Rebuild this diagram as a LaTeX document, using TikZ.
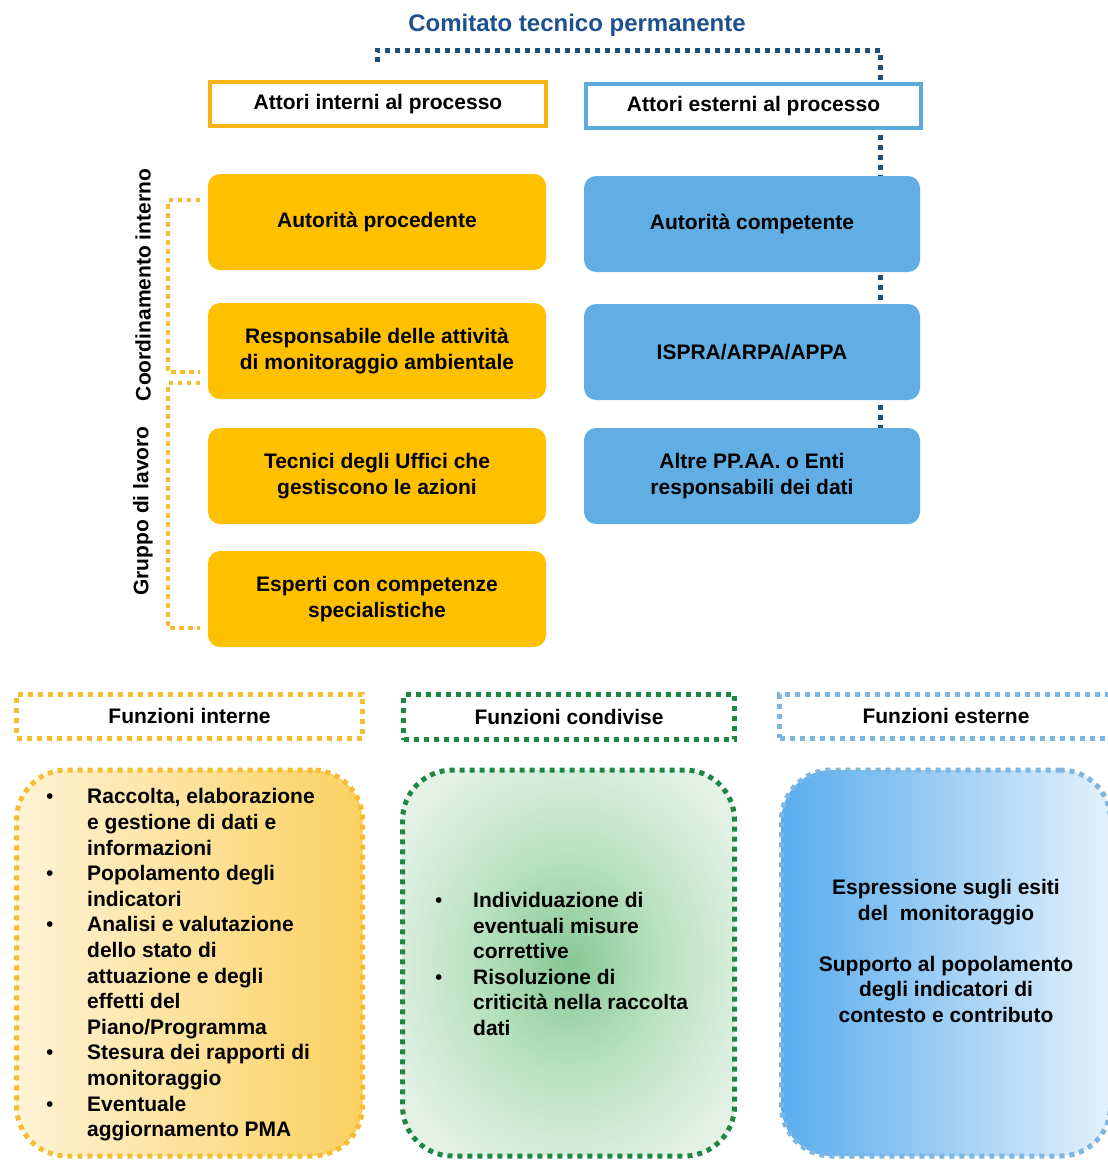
\documentclass[tikz,border=0pt]{standalone}
\usepackage{fontspec}
\setmainfont{Liberation Sans}
\usetikzlibrary{backgrounds}

\definecolor{ctpblue}{RGB}{31,78,121}
\definecolor{titleblue}{RGB}{30,80,145}
\definecolor{intorange}{RGB}{255,192,0}
\definecolor{intline}{RGB}{245,180,20}
\definecolor{extblue}{RGB}{96,174,228}
\definecolor{extline}{RGB}{90,170,222}
\definecolor{dotorange}{RGB}{245,190,50}
\definecolor{dotgreen}{RGB}{30,135,70}
\definecolor{dotblue}{RGB}{125,182,225}
\definecolor{glowin}{RGB}{135,200,148}
\definecolor{glowmid}{RGB}{185,225,192}
\definecolor{glowout}{RGB}{228,242,230}

\pgfdeclareradialshading{greenglow}{\pgfpoint{0bp}{0bp}}{%
  color(0bp)=(glowin); color(14bp)=(glowmid); color(30bp)=(glowout); color(50bp)=(glowout)}

\newcommand\itembul[1]{\makebox[#1][l]{\mdseries\textbullet}}

\begin{document}
\begin{tikzpicture}[x=1pt,y=-1pt,
  every node/.style={font=\fontsize{21}{25.6}\selectfont\bfseries, inner sep=0pt},
  header/.style={draw, line width=4pt, fill=white, minimum width=336pt, minimum height=44pt},
  actor/.style={rounded corners=12pt, minimum width=338pt, minimum height=96pt, align=center},
  dotbox/.style={draw, line width=5pt, dash pattern=on 5pt off 5pt, minimum width=346pt, minimum height=44pt},
  funcbox/.style={draw, line width=5pt, dash pattern=on 5pt off 5pt, rounded corners=50pt, minimum height=386pt},
  committee/.style={ctpblue, line width=5pt, dash pattern=on 5pt off 5pt},
  bracket/.style={dotorange, line width=4.5pt, dash pattern=on 4.5pt off 4.5pt}]
  \useasboundingbox (0,0) rectangle (1108,1162);

  % Title
  \node[font=\fontsize{24}{28}\selectfont\bfseries, text=titleblue] (title) at (577,25) {Comitato tecnico permanente};

  % Column headers
  \node[header, draw=intline] (intH) at (378,104) {Attori interni al processo};
  \node[header, draw=extline, minimum width=335pt] (extH) at (753.5,106) {Attori esterni al processo};

  % Internal actors
  \node[actor, fill=intorange] (ap) at (377,222) {Autorità procedente};
  \node[actor, fill=intorange] (resp) at (377,351) {Responsabile delle attività\\di monitoraggio ambientale};
  \node[actor, fill=intorange] (tec) at (377,476) {Tecnici degli Uffici che\\gestiscono le azioni};
  \node[actor, fill=intorange] (esp) at (377,599) {Esperti con competenze\\specialistiche};

  % External actors
  \node[actor, fill=extblue, minimum width=336pt] (ac) at (752,224) {Autorità competente};
  \node[actor, fill=extblue, minimum width=336pt] (ispra) at (752,352) {ISPRA/ARPA/APPA};
  \node[actor, fill=extblue, minimum width=336pt] (altre) at (752,476) {Altre PP.AA. o Enti\\responsabili dei dati};

  % Committee line
  \coordinate (ctL) at (377,62);
  \coordinate (ctR) at (880,50);
  \begin{scope}[on background layer]
    \draw[committee] (ctL) |- (ctR) -- (ctR |- altre.south);
  \end{scope}

  % Brackets on the left
  \draw[bracket] (200,200) -- (168,200) -- (168,372) -- (200,372);
  \draw[bracket] (200,383) -- (168,383) -- (168,628) -- (200,628);
  \node[rotate=90] (coord) at (143,285) {Coordinamento interno};
  \node[rotate=90] (gruppo) at (143,511) {Gruppo di lavoro};

  % Function headers
  \node[dotbox, draw=dotorange] (fiH) at (189.5,716) {Funzioni interne};
  \node[dotbox, draw=dotgreen, minimum width=331pt, minimum height=45pt] (fcH) at (569,717) {Funzioni condivise};
  \node[dotbox, draw=dotblue, minimum width=333pt] (feH) at (946,716) {Funzioni esterne};

  % Function boxes
  \node[funcbox, draw=dotorange, minimum width=346pt,
        left color={rgb,255:red,255;green,243;blue,215}, right color={rgb,255:red,250;green,208;blue,95}] (fi) at (189.5,963) {};
  \node[funcbox, draw=dotgreen, minimum width=332pt, shading=greenglow] (fc) at (568.5,963) {};
  \node[funcbox, draw=dotblue, minimum width=329pt,
        left color={rgb,255:red,88;green,172;blue,238}, right color={rgb,255:red,228;green,241;blue,252}] (fe) at (946,963) {};

  % Function texts
  \node[anchor=west, align=left] (fiT) at (46,965) {%
    \itembul{41pt}Raccolta, elaborazione\\
    \hspace*{41pt}e gestione di dati e\\
    \hspace*{41pt}informazioni\\
    \itembul{41pt}Popolamento degli\\
    \hspace*{41pt}indicatori\\
    \itembul{41pt}Analisi e valutazione\\
    \hspace*{41pt}dello stato di\\
    \hspace*{41pt}attuazione e degli\\
    \hspace*{41pt}effetti del\\
    \hspace*{41pt}Piano/Programma\\
    \itembul{41pt}Stesura dei rapporti di\\
    \hspace*{41pt}monitoraggio\\
    \itembul{41pt}Eventuale\\
    \hspace*{41pt}aggiornamento PMA};
  \node[anchor=west, align=left] (fcT) at (435,964) {%
    \itembul{38pt}Individuazione di\\
    \hspace*{38pt}eventuali misure\\
    \hspace*{38pt}correttive\\
    \itembul{38pt}Risoluzione di\\
    \hspace*{38pt}criticità nella raccolta\\
    \hspace*{38pt}dati};
  \node[align=center] (feT) at (946,951) {%
    Espressione sugli esiti\\
    del\ \ monitoraggio\\[25.6pt]
    Supporto al popolamento\\
    degli indicatori di\\
    contesto e contributo};
\end{tikzpicture}
\end{document}
